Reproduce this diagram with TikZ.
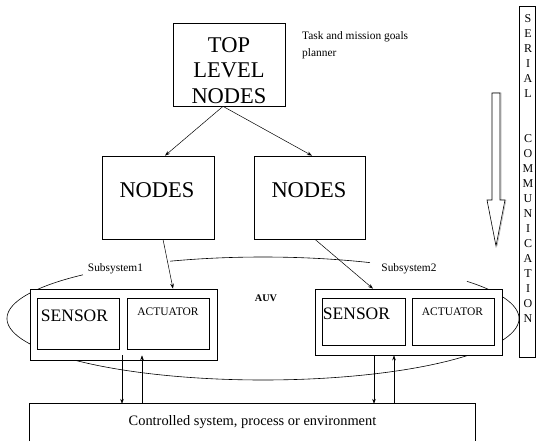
\documentclass[tikz,border=0pt]{standalone}
\usepackage{fontspec}
\setmainfont{Liberation Serif}
\usetikzlibrary{arrows.meta}
\begin{document}
\begin{tikzpicture}[x=1pt,y=-1pt,
  box/.style={draw, line width=0.7pt, inner sep=0pt, fill=white},
  arr/.style={line width=0.5pt, -{Stealth[length=5pt,width=3.6pt]}},
  lbl/.style={inner sep=0pt},
  bigtxt/.style={lbl, font=\fontsize{22.5}{25.5}\selectfont, align=center},
  sentxt/.style={lbl, font=\fontsize{17.5}{20}\selectfont},
  acttxt/.style={lbl, font=\fontsize{11.5}{13}\selectfont},
  smalltxt/.style={lbl, font=\fontsize{11.4}{17}\selectfont}]
\useasboundingbox (0,0) rectangle (537,441);

% AUV ellipse (the boxes drawn later hide its inner parts)
\draw[line width=0.6pt] plot[domain=65.3:111.3, samples=40]
  ({263+256*cos(\x)},{318.5-61.5*sin(\x)});
\draw[line width=0.6pt] plot[domain=134.7:397.2, samples=200]
  ({263+256*cos(\x)},{318.5-61.5*sin(\x)});

% planner level
\node[box, minimum width=112pt, minimum height=83pt] (top) at (229,64.5) {};
\node[bigtxt] (toptext) at (229,70.5) {TOP\\LEVEL\\NODES};
\node[smalltxt, anchor=west, align=left] (task) at (302,45)
  {Task and mission goals\\planner};

% middle nodes
\node[box, minimum width=112pt, minimum height=83pt] (nl) at (158,197.5) {};
\node[bigtxt] (nltext) at (157,190.5) {NODES};
\node[box, minimum width=111pt, minimum height=83pt] (nr) at (309.5,197.5) {};
\node[bigtxt] (nrtext) at (309,190.5) {NODES};

% subsystem 1
\node[box, minimum width=187pt, minimum height=71pt] (sub1) at (123.5,324.5) {};
\node[box, minimum width=82pt, minimum height=51pt] (sen1) at (78,323.5) {};
\node[box, minimum width=82pt, minimum height=51pt] (act1) at (168,323.5) {};
\node[sentxt] (sen1text) at (74.5,316) {SENSOR};
\node[acttxt] (act1text) at (168,312) {ACTUATOR};

% subsystem 2
\node[box, minimum width=187pt, minimum height=66pt] (sub2) at (408.5,322) {};
\node[box, minimum width=83pt, minimum height=47pt] (sen2) at (363.5,321.5) {};
\node[box, minimum width=82pt, minimum height=47pt] (act2) at (453,321.5) {};
\node[sentxt] (sen2text) at (356.5,313.5) {SENSOR};
\node[acttxt] (act2text) at (452.5,311.5) {ACTUATOR};

% labels on the ellipse
\node[smalltxt] (s1lbl) at (115.5,269) {Subsystem1};
\node[smalltxt] (s2lbl) at (409,269) {Subsystem2};
\node[lbl, font=\bfseries\fontsize{10.2}{12}\selectfont] (auv) at (266,298) {AUV};

% controlled system (open at the bottom)
\node[minimum width=445pt, minimum height=37pt, inner sep=0pt,
  font=\fontsize{14.4}{16}\selectfont] (env) at (252.5,422.5)
  {Controlled system, process or environment};
\draw[line width=0.7pt] (env.south west) -- (env.north west)
  -- (env.north east) -- (env.south east);

% serial communication bar
\node[box, minimum width=16pt, minimum height=351pt] (serial) at (527,181.5) {};
\node[lbl, anchor=north, align=center, font=\fontsize{12}{15}\selectfont]
  (serialtext) at (528,14)
  {S\\E\\R\\I\\A\\L\\[30pt]C\\O\\M\\M\\U\\N\\I\\C\\A\\T\\I\\O\\N};

% hollow downward arrow with a light shadow on its right
\draw[gray!70, line width=0.5pt, xshift=1pt] (492,93) -- (500,93) -- (500,200)
  -- (505,200) -- (496,246);
\draw[line width=0.6pt, fill=white] (492,93) -- (500,93) -- (500,200)
  -- (505,200) -- (496,246) -- (487,200) -- (492,200) -- cycle;

% connectors
\draw[arr] ([xshift=-6pt]top.south) -- ([xshift=7pt]nl.north);
\draw[arr] ([xshift=-6pt]top.south) -- ([xshift=2.5pt]nr.north);
\draw[arr] ([xshift=5pt]nl.south) -- ([xshift=49.5pt]sub1.north);
\draw[arr] ([xshift=5.5pt]nr.south) -- ([xshift=-35.5pt]sub2.north);

\coordinate (d1) at ([xshift=-1.5pt,yshift=5pt]sub1.south);
\coordinate (u1) at ([xshift=18.5pt,yshift=5pt]sub1.south);
\coordinate (d2) at ([xshift=-34.5pt]sub2.south);
\coordinate (u2) at ([xshift=-14.5pt]sub2.south);
\draw[arr] (d1) -- (d1 |- env.north);
\draw[arr] (u1 |- env.north) -- (u1);
\draw[arr] (d2) -- (d2 |- env.north);
\draw[arr] (u2 |- env.north) -- (u2);
\end{tikzpicture}
\end{document}
